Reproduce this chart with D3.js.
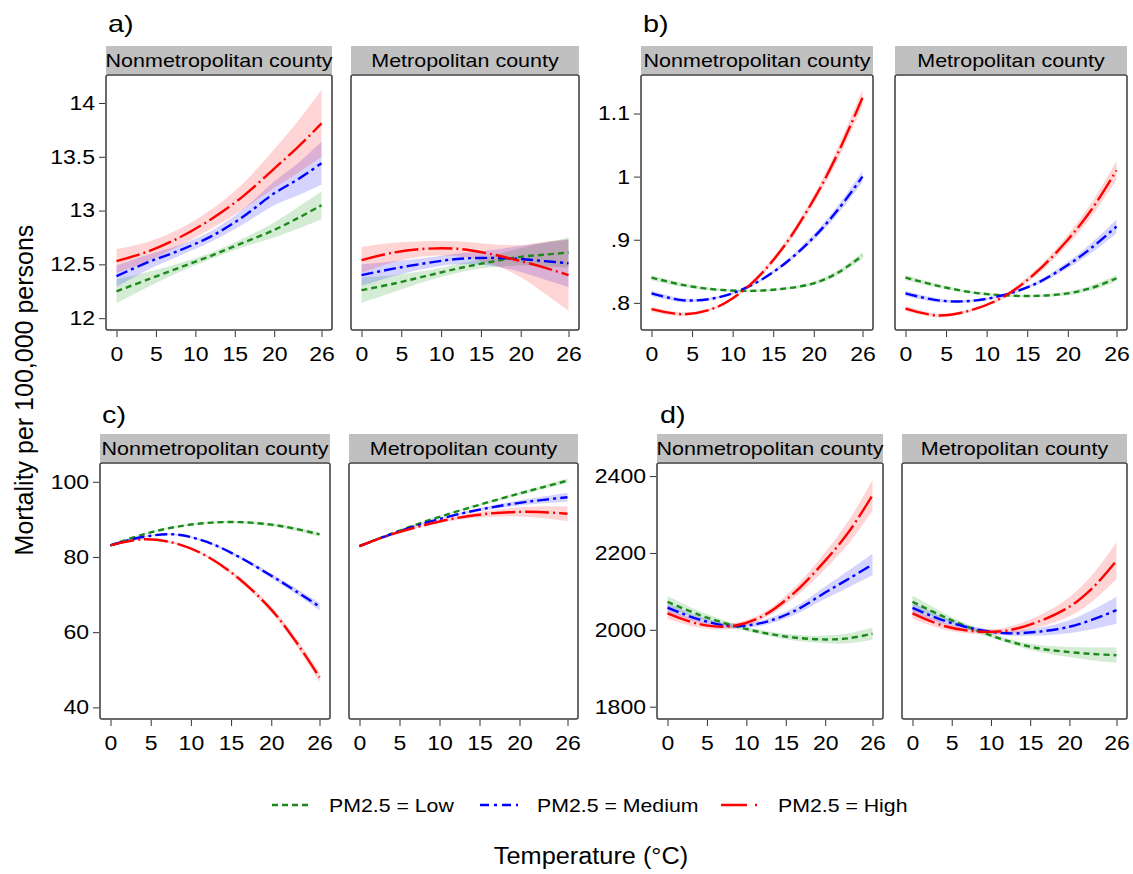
<!DOCTYPE html>
<html lang="en">
<head>
<meta charset="utf-8">
<script src="https://d3js.org/d3.v7.min.js"></script>
<style>
  body { margin: 0; background: #fff; }
  text { font-family: "Liberation Sans", Arial, sans-serif; fill: #000; }
</style>
</head>
<body>
<script>
const temps = [0, 4, 8, 12, 16, 20, 23, 26];
const xTicks = [0, 5, 10, 15, 20, 26];
const levels = ["Low", "Medium", "High"];
const legendLabels = ["PM2.5 = Low", "PM2.5 = Medium", "PM2.5 = High"];
const stripLabels = ["Nonmetropolitan county", "Metropolitan county"];
const panelLetters = ["a)", "b)", "c)", "d)"];
const yTicksA = [12, 12.5, 13, 13.5, 14];
const yTicksB = [0.8, 0.9, 1, 1.1];
const yTicksC = [40, 60, 80, 100];
const yTicksD = [1800, 2000, 2200, 2400];

// rows: Low, Medium, High  (mean and half width of the CI)
const aNonMean = [[12.25, 12.36, 12.47, 12.58, 12.70, 12.82, 12.93, 13.05],
                  [12.39, 12.52, 12.63, 12.76, 12.94, 13.16, 13.29, 13.44],
                  [12.53, 12.62, 12.75, 12.92, 13.13, 13.39, 13.59, 13.81]];
const aNonCI   = [[0.11, 0.07, 0.04, 0.03, 0.04, 0.07, 0.10, 0.13],
                  [0.10, 0.07, 0.05, 0.05, 0.07, 0.11, 0.15, 0.20],
                  [0.11, 0.09, 0.08, 0.09, 0.12, 0.18, 0.24, 0.31]];
const aMetMean = [[12.26, 12.32, 12.39, 12.46, 12.52, 12.57, 12.59, 12.61],
                  [12.40, 12.46, 12.51, 12.55, 12.56, 12.55, 12.53, 12.51],
                  [12.54, 12.61, 12.645, 12.645, 12.60, 12.53, 12.47, 12.40]];
const aMetCI   = [[0.12, 0.08, 0.05, 0.04, 0.05, 0.08, 0.11, 0.14],
                  [0.10, 0.07, 0.05, 0.05, 0.07, 0.12, 0.17, 0.22],
                  [0.12, 0.09, 0.07, 0.07, 0.09, 0.15, 0.24, 0.33]];

const bNonMean = [[0.840, 0.828, 0.821, 0.819, 0.822, 0.831, 0.848, 0.875],
                  [0.815, 0.804, 0.808, 0.826, 0.858, 0.904, 0.948, 1.000],
                  [0.790, 0.782, 0.793, 0.827, 0.884, 0.964, 1.038, 1.125]];
const bNonCI   = [[0.004, 0.003, 0.002, 0.002, 0.002, 0.003, 0.004, 0.005],
                  [0.004, 0.003, 0.002, 0.002, 0.003, 0.005, 0.007, 0.009],
                  [0.004, 0.003, 0.002, 0.003, 0.005, 0.007, 0.010, 0.013]];
const bMetMean = [[0.840, 0.827, 0.817, 0.812, 0.811, 0.815, 0.824, 0.839],
                  [0.815, 0.804, 0.803, 0.812, 0.830, 0.860, 0.888, 0.921],
                  [0.791, 0.780, 0.788, 0.809, 0.847, 0.900, 0.949, 1.010]];
const bMetCI   = [[0.004, 0.003, 0.002, 0.002, 0.002, 0.003, 0.004, 0.005],
                  [0.004, 0.003, 0.002, 0.002, 0.003, 0.005, 0.008, 0.011],
                  [0.004, 0.003, 0.002, 0.003, 0.005, 0.008, 0.011, 0.015]];

const cNonMean = [[83.1, 85.96, 87.95, 89.05, 89.27, 88.6, 87.5, 86.0],
                  [83.1, 85.3, 86.0, 84.0, 80.0, 75.0, 71.0, 66.8],
                  [83.1, 84.7, 83.7, 80.2, 74.2, 66.0, 57.7, 48.0]];
const cNonCI   = [[0.3, 0.2, 0.2, 0.2, 0.3, 0.4, 0.5, 0.6],
                  [0.3, 0.2, 0.2, 0.3, 0.4, 0.6, 0.8, 1.0],
                  [0.3, 0.2, 0.3, 0.4, 0.6, 0.8, 1.0, 1.3]];
const cMetMean = [[82.9, 86.2, 89.3, 92.0, 94.5, 96.9, 98.6, 100.3],
                  [82.9, 86.1, 88.9, 91.2, 93.0, 94.4, 95.2, 95.9],
                  [82.9, 86.0, 88.4, 90.3, 91.5, 92.0, 91.9, 91.5]];
const cMetCI   = [[0.3, 0.2, 0.2, 0.2, 0.3, 0.4, 0.5, 0.6],
                  [0.3, 0.2, 0.2, 0.3, 0.5, 0.7, 0.9, 1.2],
                  [0.3, 0.2, 0.3, 0.5, 0.8, 1.2, 1.6, 2.0]];

const dNonMean = [[2073, 2039, 2013, 1993, 1980, 1975, 1978, 1990],
                  [2058, 2027, 2010, 2018, 2048, 2097, 2133, 2170],
                  [2043, 2015, 2009, 2035, 2095, 2180, 2255, 2350]];
const dNonCI   = [[15, 10, 7, 6, 8, 10, 13, 16],
                  [12, 8, 6, 7, 10, 16, 22, 28],
                  [14, 9, 7, 8, 13, 22, 30, 40]];
const dMetMean = [[2073, 2034, 2000, 1972, 1952, 1942, 1937, 1934],
                  [2057, 2024, 2002, 1991, 1995, 2008, 2027, 2051],
                  [2043, 2010, 1996, 1998, 2021, 2060, 2110, 2180]];
const dMetCI   = [[16, 10, 6, 6, 9, 13, 17, 20],
                  [14, 9, 6, 6, 10, 17, 25, 35],
                  [14, 9, 7, 9, 15, 25, 35, 48]];

const colors = ["#1b8a1b", "#0000ff", "#ff0000"];
const bandColors = ["rgba(0,140,0,0.17)", "rgba(0,0,255,0.17)", "rgba(255,0,0,0.17)"];
const dashes = ["6,4", "12,4,3,4", "24,4,2,4"];

const W = 1133, H = 874;
const svg = d3.select("body").append("svg").attr("width", W).attr("height", H);

// stretch text horizontally (the source picture is a bit wide)
function stretch(sel, k) {
  sel.each(function() {
    const len = this.getComputedTextLength();
    d3.select(this).attr("textLength", len * k).attr("lengthAdjust", "spacingAndGlyphs");
  });
}

const rows = [{top: 75, bottom: 330}, {top: 463, bottom: 719}];
const panels = [
  {row: 0, yTicks: yTicksA, dom: [11.89, 14.26], boxes: [[106, 332], [351, 579]],
   data: [[aNonMean, aNonCI], [aMetMean, aMetCI]], letter: [108, 32]},
  {row: 0, yTicks: yTicksB, dom: [0.757, 1.161], boxes: [[641, 873], [895, 1127]],
   data: [[bNonMean, bNonCI], [bMetMean, bMetCI]], letter: [643, 32]},
  {row: 1, yTicks: yTicksC, dom: [36.9, 105], boxes: [[100, 330], [349, 578]],
   data: [[cNonMean, cNonCI], [cMetMean, cMetCI]], letter: [102, 423]},
  {row: 1, yTicks: yTicksD, dom: [1768, 2434], boxes: [[657, 883], [902, 1127]],
   data: [[dNonMean, dNonCI], [dMetMean, dMetCI]], letter: [660, 423]}
];

const fmt = d => d < 1 ? String(d).replace(/^0/, "") : String(d);

panels.forEach((p, pi) => {
  const r = rows[p.row];
  const y = d3.scaleLinear().domain(p.dom).range([r.bottom, r.top]);

  const lt = svg.append("text")
      .attr("x", p.letter[0]).attr("y", p.letter[1])
      .style("font-size", "24px")
      .text(panelLetters[pi]);
  stretch(lt, 1.2);

  p.boxes.forEach((b, bi) => {
    const x = d3.scaleLinear().domain([0, 26]).range([b[0] + 10.5, b[1] - 10.5]);
    const g = svg.append("g");

    // strip
    g.append("rect")
        .attr("x", b[0]).attr("y", r.top - 29)
        .attr("width", b[1] - b[0]).attr("height", 28)
        .attr("fill", "#c0c0c0");
    const st = g.append("text")
        .attr("x", (b[0] + b[1]) / 2).attr("y", r.top - 8)
        .attr("text-anchor", "middle")
        .style("font-size", "19px")
        .text(stripLabels[bi]);
    stretch(st, 1.13);

    g.append("rect")
        .attr("x", b[0]).attr("y", r.top)
        .attr("width", b[1] - b[0]).attr("height", r.bottom - r.top)
        .attr("fill", "#fff");

    const mean = p.data[bi][0], ci = p.data[bi][1];
    const clip = "clip" + pi + bi;
    g.append("clipPath").attr("id", clip).append("rect")
        .attr("x", b[0]).attr("y", r.top)
        .attr("width", b[1] - b[0]).attr("height", r.bottom - r.top);
    const plot = g.append("g").attr("clip-path", "url(#" + clip + ")");

    levels.forEach((lv, li) => {
      const pts = temps.map((t, i) => ({t: t, m: mean[li][i], c: ci[li][i]}));
      const area = d3.area()
          .x(d => x(d.t))
          .y0(d => y(d.m - d.c))
          .y1(d => y(d.m + d.c))
          .curve(d3.curveCatmullRom.alpha(0.5));
      plot.append("path").datum(pts)
          .attr("d", area)
          .attr("fill", bandColors[li]);
    });
    levels.forEach((lv, li) => {
      const pts = temps.map((t, i) => ({t: t, m: mean[li][i]}));
      const line = d3.line()
          .x(d => x(d.t))
          .y(d => y(d.m))
          .curve(d3.curveCatmullRom.alpha(0.5));
      plot.append("path").datum(pts)
          .attr("d", line)
          .attr("fill", "none")
          .attr("stroke", colors[li])
          .attr("stroke-width", 2.4)
          .attr("stroke-dasharray", dashes[li]);
    });

    g.append("rect")
        .attr("x", b[0]).attr("y", r.top)
        .attr("width", b[1] - b[0]).attr("height", r.bottom - r.top)
        .attr("rx", 2)
        .attr("fill", "none").attr("stroke", "#3a3a3a").attr("stroke-width", 1.5);

    // bottom axis
    const xa = g.append("g")
        .attr("transform", "translate(0," + (r.bottom + 1) + ")")
        .call(d3.axisBottom(x).tickValues(xTicks).tickSize(6).tickPadding(10));
    xa.select(".domain").remove();
    xa.selectAll("line").attr("stroke", "#333");
    xa.selectAll("text").style("font-size", "20px").attr("font-family", null);
    stretch(xa.selectAll("text"), 1.15);

    if (bi === 0) {
      const ya = g.append("g")
          .attr("transform", "translate(" + (b[0] - 1) + ",0)")
          .call(d3.axisLeft(y).tickValues(p.yTicks).tickFormat(fmt).tickSize(6).tickPadding(4));
      ya.select(".domain").remove();
      ya.selectAll("line").attr("stroke", "#333");
      ya.selectAll("text").style("font-size", "20px").attr("font-family", null);
      stretch(ya.selectAll("text"), 1.15);
    }
  });
});

// y title
svg.append("text")
    .attr("transform", "translate(33,390) rotate(-90)")
    .attr("text-anchor", "middle")
    .style("font-size", "25px")
    .text("Mortality per 100,000 persons");

// legend
const legX = [272, 480, 721];
const legDash = ["6,4", "9,5,3,5", "26,8,2,4"];
const leg = svg.append("g");
legendLabels.forEach((lab, i) => {
  leg.append("line")
      .attr("x1", legX[i]).attr("x2", legX[i] + 38)
      .attr("y1", 805).attr("y2", 805)
      .attr("stroke", colors[i]).attr("stroke-width", 2.4)
      .attr("stroke-dasharray", legDash[i]);
  const t = leg.append("text")
      .attr("x", legX[i] + 57).attr("y", 812)
      .style("font-size", "19px")
      .text(lab);
  stretch(t, 1.12);
});

const xt = svg.append("text")
    .attr("x", 591).attr("y", 864)
    .attr("text-anchor", "middle")
    .style("font-size", "23px")
    .text("Temperature (°C)");
stretch(xt, 1.1);
</script>
</body>
</html>
